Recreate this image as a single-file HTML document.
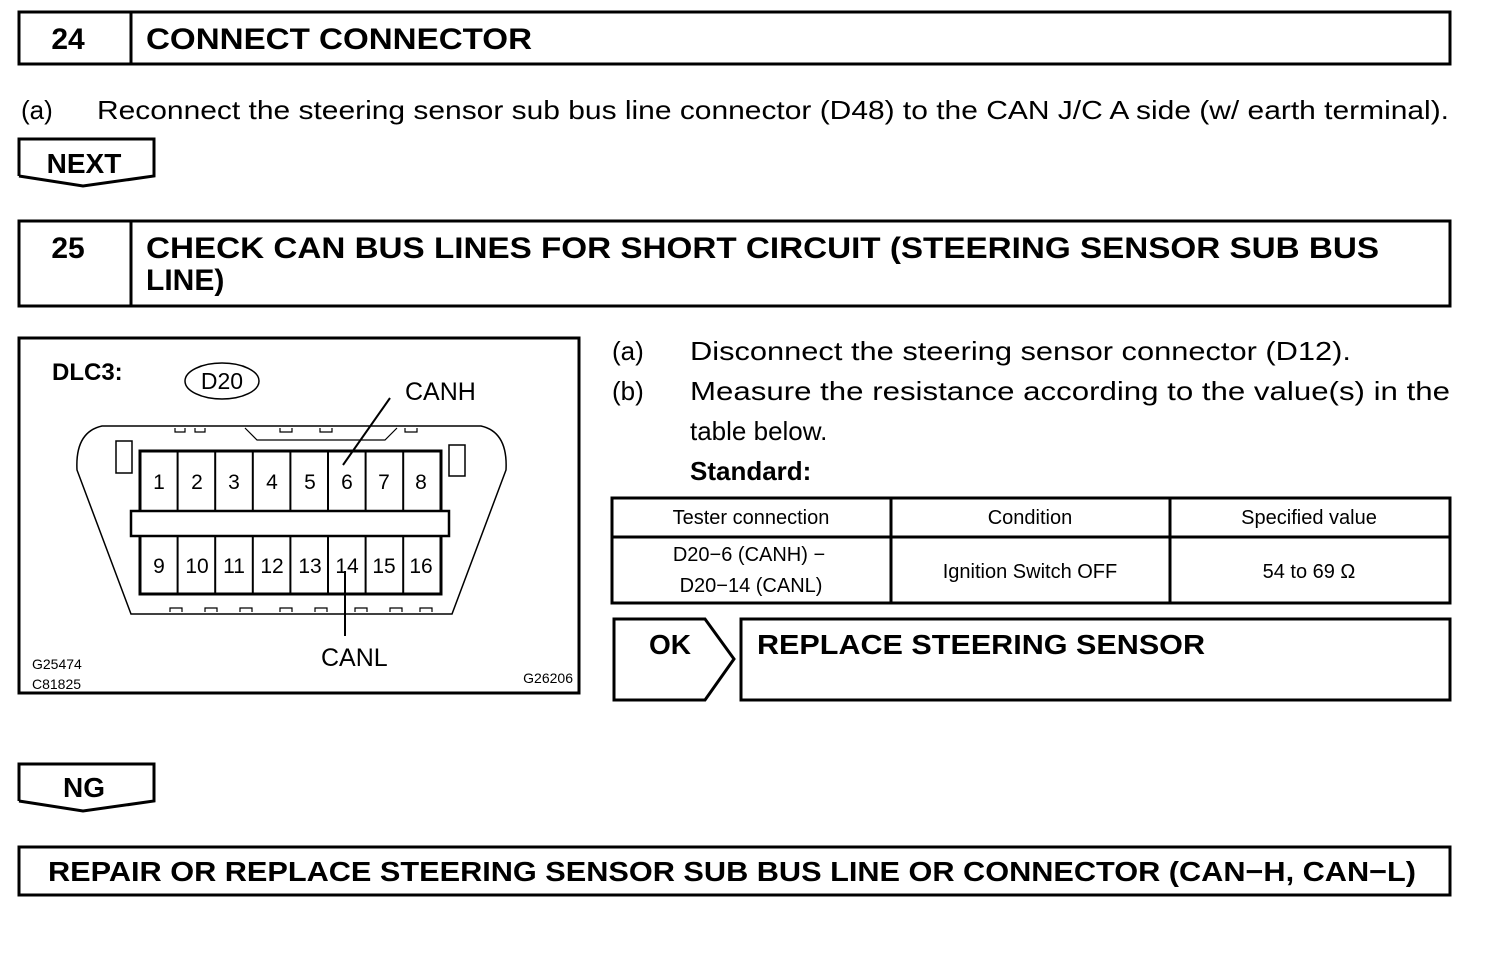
<!DOCTYPE html>
<html><head><meta charset="utf-8"><style>
html,body{margin:0;padding:0;background:#fff;}
svg{display:block;font-family:"Liberation Sans",Arial,sans-serif;}
</style></head><body>
<svg width="1504" height="966" viewBox="0 0 1504 966" xmlns="http://www.w3.org/2000/svg">
<g fill="none" stroke="#000" stroke-width="3">
<rect x="19" y="12" width="1431" height="52"/>
<line x1="131" y1="12" x2="131" y2="64"/>
<polyline points="19,176 19,139 154,139 154,176 83,186 19,176"/>
<rect x="19" y="221" width="1431" height="85"/>
<line x1="131" y1="221" x2="131" y2="306"/>
<rect x="19" y="338" width="560" height="355"/>
<rect x="612" y="498" width="838" height="105"/>
<line x1="891" y1="498" x2="891" y2="603"/>
<line x1="1170" y1="498" x2="1170" y2="603"/>
<line x1="612" y1="537" x2="1450" y2="537"/>
<polygon points="614,619 705,619 734,659 705,700 614,700"/>
<rect x="741" y="619" width="709" height="81"/>
<polyline points="19,801 19,764 154,764 154,801 83,811 19,801"/>
<rect x="19" y="847" width="1431" height="48"/>
</g>
<g fill="none" stroke="#000">
<ellipse cx="222" cy="381" rx="37" ry="18" stroke-width="1.5"/>
<path d="M102,426 L481,426 Q508,432 506,470 L452,614 L131,614 L77,470 Q75,432 102,426 Z" stroke-width="1.5"/>
<path d="M175,428 v4 h10 v-4 M195,428 v4 h10 v-4 M245,428 l12,12 h128 l12,-12 M280,428 v4 h12 v-4 M320,428 v4 h12 v-4 M405,428 v4 h12 v-4" stroke-width="1.2"/>
<path d="M170,612 v-4 h12 v4 M205,612 v-4 h12 v4 M240,612 v-4 h12 v4 M280,612 v-4 h12 v4 M315,612 v-4 h12 v4 M355,612 v-4 h12 v4 M390,612 v-4 h12 v4 M420,612 v-4 h12 v4" stroke-width="1.2"/>
<rect x="116" y="441" width="16" height="32" stroke-width="1.5"/>
<rect x="449" y="445" width="16" height="31" stroke-width="1.5"/>
<rect x="140" y="451" width="301" height="143" stroke-width="3"/>
<rect x="131" y="511" width="318" height="25" stroke-width="2.5" fill="#fff"/>
<g stroke-width="2">
<line x1="177.6" y1="451" x2="177.6" y2="511"/><line x1="215.2" y1="451" x2="215.2" y2="511"/><line x1="252.8" y1="451" x2="252.8" y2="511"/><line x1="290.4" y1="451" x2="290.4" y2="511"/><line x1="328" y1="451" x2="328" y2="511"/><line x1="365.6" y1="451" x2="365.6" y2="511"/><line x1="403.2" y1="451" x2="403.2" y2="511"/>
<line x1="177.6" y1="536" x2="177.6" y2="594"/><line x1="215.2" y1="536" x2="215.2" y2="594"/><line x1="252.8" y1="536" x2="252.8" y2="594"/><line x1="290.4" y1="536" x2="290.4" y2="594"/><line x1="328" y1="536" x2="328" y2="594"/><line x1="365.6" y1="536" x2="365.6" y2="594"/><line x1="403.2" y1="536" x2="403.2" y2="594"/>
</g>
<line x1="390" y1="398" x2="343" y2="465" stroke-width="2"/>
<line x1="345" y1="571" x2="345" y2="636" stroke-width="2"/>
</g>
<g fill="#000" font-size="21" text-anchor="middle">
<text x="159" y="489">1</text><text x="197" y="489">2</text><text x="234" y="489">3</text><text x="272" y="489">4</text><text x="310" y="489">5</text><text x="347" y="489">6</text><text x="384" y="489">7</text><text x="421" y="489">8</text>
<text x="159" y="573">9</text><text x="197" y="573">10</text><text x="234" y="573">11</text><text x="272" y="573">12</text><text x="310" y="573">13</text><text x="347" y="573">14</text><text x="384" y="573">15</text><text x="421" y="573">16</text>
</g>
<g fill="#000">
<text x="52" y="380" font-size="24" font-weight="bold">DLC3:</text>
<text x="222" y="389" font-size="23" text-anchor="middle">D20</text>
<text x="405" y="400" font-size="25">CANH</text>
<text x="321" y="666" font-size="25">CANL</text>
<text x="32" y="669" font-size="14">G25474</text>
<text x="32" y="689" font-size="14">C81825</text>
<text x="573" y="683" font-size="14" text-anchor="end">G26206</text>
</g>
<g fill="#000">
<text x="68" y="49" font-size="30" font-weight="bold" text-anchor="middle">24</text>
<text x="146" y="49" font-size="30" font-weight="bold" textLength="386" lengthAdjust="spacingAndGlyphs">CONNECT CONNECTOR</text>
<text x="21" y="119" font-size="26">(a)</text>
<text x="97" y="119" font-size="26" textLength="1352" lengthAdjust="spacingAndGlyphs">Reconnect the steering sensor sub bus line connector (D48) to the CAN J/C A side (w/ earth terminal).</text>
<text x="84" y="173" font-size="28" font-weight="bold" text-anchor="middle">NEXT</text>
<text x="68" y="258" font-size="30" font-weight="bold" text-anchor="middle">25</text>
<text x="146" y="258" font-size="30" font-weight="bold" textLength="1233" lengthAdjust="spacingAndGlyphs">CHECK CAN BUS LINES FOR SHORT CIRCUIT (STEERING SENSOR SUB BUS</text>
<text x="146" y="290" font-size="30" font-weight="bold">LINE)</text>
<text x="612" y="360" font-size="26">(a)</text>
<text x="690" y="360" font-size="26" textLength="661" lengthAdjust="spacingAndGlyphs">Disconnect the steering sensor connector (D12).</text>
<text x="612" y="400" font-size="26">(b)</text>
<text x="690" y="400" font-size="26" textLength="760" lengthAdjust="spacingAndGlyphs">Measure the resistance according to the value(s) in the</text>
<text x="690" y="440" font-size="26">table below.</text>
<text x="690" y="480" font-size="26" font-weight="bold">Standard:</text>
<g font-size="20" text-anchor="middle">
<text x="751" y="524">Tester connection</text>
<text x="1030" y="524">Condition</text>
<text x="1309" y="524">Specified value</text>
<text x="749" y="561">D20−6 (CANH) −</text>
<text x="751" y="592">D20−14 (CANL)</text>
<text x="1030" y="578">Ignition Switch OFF</text>
<text x="1309" y="578">54 to 69 Ω</text>
</g>
<text x="670" y="654" font-size="28" font-weight="bold" text-anchor="middle">OK</text>
<text x="757" y="654" font-size="28" font-weight="bold" textLength="448" lengthAdjust="spacingAndGlyphs">REPLACE STEERING SENSOR</text>
<text x="84" y="797" font-size="28" font-weight="bold" text-anchor="middle">NG</text>
<text x="48" y="881" font-size="28" font-weight="bold" textLength="1368" lengthAdjust="spacingAndGlyphs">REPAIR OR REPLACE STEERING SENSOR SUB BUS LINE OR CONNECTOR (CAN−H, CAN−L)</text>
</g>
</svg>
</body></html>
